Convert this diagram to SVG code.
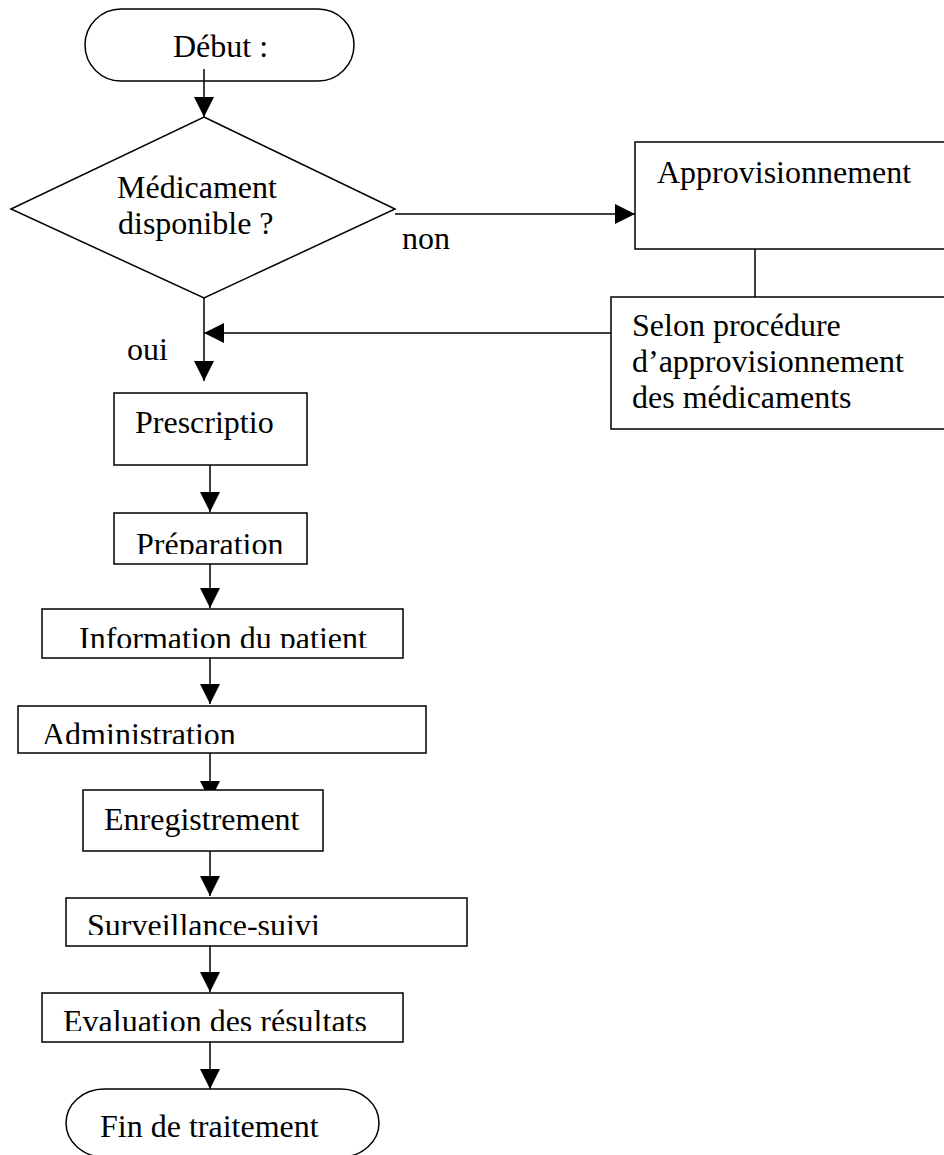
<svg xmlns="http://www.w3.org/2000/svg" width="944" height="1155" viewBox="0 0 944 1155">
<style>
.shape{fill:#fff;stroke:#000;stroke-width:1.5}
.open{fill:none;stroke:#000;stroke-width:1.5}
.conn{fill:none;stroke:#000;stroke-width:1.5}
.arr{marker-end:url(#ah)}
text{font-family:"Liberation Serif","Times New Roman",serif;font-size:32px;fill:#000}
</style>
<defs>
<marker id="ah" markerUnits="userSpaceOnUse" markerWidth="20" markerHeight="20" refX="20" refY="10" orient="auto">
<path d="M0,0 L20,10 L0,20 Z" fill="#000"/>
</marker>
<clipPath id="cPrep"><rect x="114" y="513" width="193" height="41"/></clipPath>
<clipPath id="cInfo"><rect x="42" y="609" width="361" height="39"/></clipPath>
<clipPath id="cAdmin"><rect x="18" y="706" width="408" height="38"/></clipPath>
<clipPath id="cSurv"><rect x="66" y="898" width="401" height="37"/></clipPath>
<clipPath id="cEval"><rect x="42" y="993" width="361" height="38"/></clipPath>
</defs>
<rect width="944" height="1155" fill="#fff"/>
<g id="connectors">
<line class="conn arr" x1="204" y1="69" x2="204" y2="117"/>
<line class="conn arr" x1="395" y1="214" x2="635" y2="214"/>
<line class="conn" x1="755" y1="249" x2="755" y2="297"/>
<line class="conn arr" x1="611" y1="333" x2="204" y2="333"/>
<line class="conn arr" x1="204" y1="298" x2="204" y2="381"/>
<line class="conn arr" x1="210" y1="465" x2="210" y2="512"/>
<line class="conn arr" x1="210" y1="564" x2="210" y2="608"/>
<line class="conn arr" x1="210" y1="658" x2="210" y2="704"/>
<line class="conn arr" x1="210" y1="753" x2="210" y2="801"/>
<line class="conn arr" x1="210" y1="851" x2="210" y2="896"/>
<line class="conn arr" x1="210" y1="946" x2="210" y2="992"/>
<line class="conn arr" x1="210" y1="1042" x2="210" y2="1089"/>
<text x="402" y="249">non</text>
<text x="127" y="360">oui</text>
</g>
<g id="debut">
<rect class="open" x="85" y="9" width="269" height="72" rx="36" ry="36"/>
<text x="173" y="57">Début :</text>
</g>
<g id="decision">
<polygon class="open" points="204,117 395,209 204,298 11,209"/>
<text x="117" y="198">Médicament</text>
<text x="118" y="234">disponible ?</text>
</g>
<g id="approvisionnement">
<rect class="shape" x="635" y="142" width="320" height="107"/>
<text x="657" y="183">Approvisionnement</text>
</g>
<g id="procedure">
<rect class="shape" x="611" y="297" width="344" height="132"/>
<text x="632" y="336">Selon procédure</text>
<text x="632" y="372">d’approvisionnement</text>
<text x="632" y="408">des médicaments</text>
</g>
<g id="prescription">
<rect class="shape" x="114" y="393" width="193" height="72"/>
<text x="135" y="433">Prescriptio</text>
</g>
<g id="preparation">
<rect class="shape" x="114" y="513" width="193" height="51"/>
<text x="136" y="555" clip-path="url(#cPrep)">Préparation</text>
</g>
<g id="information">
<rect class="shape" x="42" y="609" width="361" height="49"/>
<text x="79" y="649" clip-path="url(#cInfo)">Information du patient</text>
</g>
<g id="administration">
<rect class="shape" x="18" y="706" width="408" height="47"/>
<text x="42" y="745" clip-path="url(#cAdmin)">Administration</text>
</g>
<g id="enregistrement">
<rect class="shape" x="83" y="790" width="240" height="61"/>
<text x="104" y="830">Enregistrement</text>
</g>
<g id="surveillance">
<rect class="shape" x="66" y="898" width="401" height="48"/>
<text x="87" y="936" clip-path="url(#cSurv)">Surveillance-suivi</text>
</g>
<g id="evaluation">
<rect class="shape" x="42" y="993" width="361" height="49"/>
<text x="63" y="1032" clip-path="url(#cEval)">Evaluation des résultats</text>
</g>
<g id="fin">
<rect class="shape" x="66" y="1089" width="313" height="68" rx="38" ry="34"/>
<text x="100" y="1137">Fin de traitement</text>
</g>
</svg>
